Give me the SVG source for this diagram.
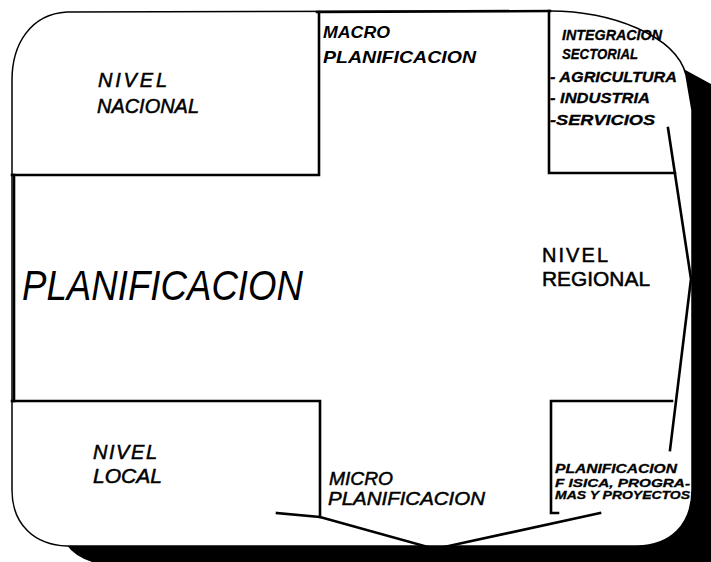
<svg xmlns="http://www.w3.org/2000/svg" width="711" height="562" viewBox="0 0 711 562">
<style>
.ln{fill:none;stroke:#000;stroke-linecap:square;stroke-linejoin:miter}
.bold{stroke-width:2.6}
.t{font-family:"Liberation Sans",Arial,sans-serif;fill:#000}
.it{font-style:italic}
.bd{font-weight:bold}
.md{stroke:#000;stroke-width:0.5}
.hv{stroke:#000;stroke-width:0.3}
</style>
<rect x="0" y="0" width="711" height="562" fill="#fff"/>
<g id="frame">
<rect x="640" y="90" width="71" height="472" fill="#000"/>
<rect x="100" y="500" width="611" height="62" fill="#000"/>
<polygon points="678,66 711,84 711,120 660,120" fill="#000"/>
<path d="M66,544 Q74,556 92,562 L120,562 L120,540 Z" fill="#000"/>
<path d="M67,12 L550,11 C610,11 676,35 686,75 L692,110 L692,490 C692,525 670,546 637,546 L67,546 C35,545 12,525 12,490 L12,80 C12,45 30,14 67,12 Z" fill="#fff" stroke="#000" stroke-width="1.5"/>
<path class="ln bold" d="M317,12 L550,11"/>
</g>
<g id="nivel-nacional">
<path class="ln bold" d="M12,175 L319,175 L319,12"/>
<text class="t it md" font-size="20" x="98" y="87" textLength="69" lengthAdjust="spacing">NIVEL</text>
<text class="t it md" font-size="20" x="97" y="113" textLength="102" lengthAdjust="spacingAndGlyphs">NACIONAL</text>
</g>
<g id="macro-planificacion">
<text class="t it bd" font-size="17" x="323" y="38" textLength="67" lengthAdjust="spacingAndGlyphs">MACRO</text>
<text class="t it bd" font-size="17" x="323" y="63" textLength="153" lengthAdjust="spacingAndGlyphs">PLANIFICACION</text>
</g>
<g id="integracion-sectorial">
<path class="ln bold" d="M549,11 L549,173 L675,173"/>
<text class="t it bd hv" font-size="15" x="562" y="40" textLength="100" lengthAdjust="spacingAndGlyphs">INTEGRACION</text>
<text class="t it bd hv" font-size="15" x="562" y="59" textLength="76" lengthAdjust="spacingAndGlyphs">SECTORIAL</text>
<text class="t it bd hv" font-size="15" x="550" y="82" textLength="127" lengthAdjust="spacingAndGlyphs">- AGRICULTURA</text>
<text class="t it bd hv" font-size="15" x="550" y="103" textLength="100" lengthAdjust="spacingAndGlyphs">- INDUSTRIA</text>
<text class="t it bd hv" font-size="15" x="550" y="125" textLength="105" lengthAdjust="spacingAndGlyphs">-SERVICIOS</text>
</g>
<g id="planificacion">
<path class="ln bold" d="M14,175 L14,401"/>
<text class="t it" font-size="42" x="22" y="300" textLength="281" lengthAdjust="spacingAndGlyphs">PLANIFICACION</text>
</g>
<g id="nivel-regional">
<text class="t md" font-size="20" x="542" y="262" textLength="66" lengthAdjust="spacing">NIVEL</text>
<text class="t md" font-size="20" x="542" y="286" textLength="108" lengthAdjust="spacingAndGlyphs">REGIONAL</text>
</g>
<g id="nivel-local">
<path class="ln bold" d="M12,401 L320,401 L320,517"/>
<text class="t it md" font-size="20" x="93" y="459" textLength="64" lengthAdjust="spacing">NIVEL</text>
<text class="t it md" font-size="20" x="93" y="483" textLength="69" lengthAdjust="spacingAndGlyphs">LOCAL</text>
</g>
<g id="micro-planificacion">
<text class="t it md" font-size="19" x="329" y="485" textLength="64" lengthAdjust="spacingAndGlyphs">MICRO</text>
<text class="t it md" font-size="19" x="328" y="505" textLength="157" lengthAdjust="spacingAndGlyphs">PLANIFICACION</text>
</g>
<g id="planificacion-fisica">
<path class="ln bold" d="M672,401 L551,401 L551,513 L558,513"/>
<text class="t it bd hv" font-size="13" x="555" y="473" textLength="122" lengthAdjust="spacingAndGlyphs">PLANIFICACION</text>
<text class="t it bd hv" font-size="11.5" x="555" y="487" textLength="135" lengthAdjust="spacingAndGlyphs">F ISICA, PROGRA-</text>
<text class="t it bd hv" font-size="11.5" x="555" y="498.5" textLength="135" lengthAdjust="spacingAndGlyphs">MAS Y PROYECTOS</text>
</g>
<g id="connectors">
<path class="ln bold" d="M668,128 L691,279 L670,450"/>
<path class="ln bold" d="M277,513 L320,517 L435,549 L600,513"/>
</g>
</svg>
